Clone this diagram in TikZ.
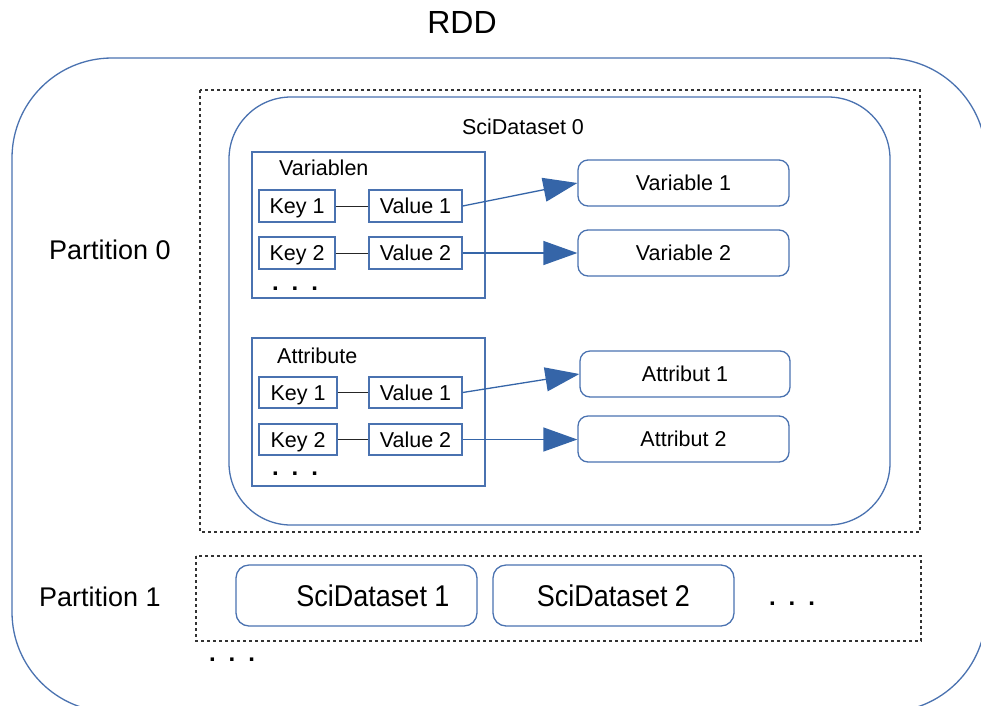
\documentclass[tikz,border=0pt]{standalone}
\usepackage{fontspec}
\setmainfont{Liberation Sans}
\usetikzlibrary{arrows.meta}
\definecolor{bl}{HTML}{4A72B0}
\definecolor{ar}{HTML}{3565A8}
\newcommand{\mydots}{\textbf{.\hspace{13pt}.\hspace{13pt}.}}
\begin{document}
\begin{tikzpicture}[x=1pt,y=-1pt,
  bluebox/.style={draw=bl,line width=1.3pt,inner sep=0pt},
  rbox/.style={draw=bl,line width=1.3pt,rounded corners=10pt,inner sep=0pt},
  dbox/.style={draw=black!80,line width=1.1pt,dash pattern=on 3pt off 3pt},
  txt/.style={font=\fontsize{21.5}{25}\selectfont,inner sep=0pt,text height=15.5pt,text depth=0pt},
  dots/.style={font=\fontsize{24}{28}\selectfont,inner sep=0pt},
  big/.style={font=\fontsize{27}{31}\selectfont,inner sep=0pt},
  arr/.style={draw=ar,line width=1.3pt,-{Triangle[length=34pt,width=24pt]}},
  link/.style={draw=black!85,line width=1pt}]
\useasboundingbox (0,0) rectangle (981,705);
\clip (0,0) rectangle (981,705);
% outer RDD
\draw[draw=bl,line width=1.3pt,rounded corners=100pt] (12,58) rectangle (986,712);
\node[font=\fontsize{32}{36}\selectfont,inner sep=0pt] (rdd) at (462,22) {RDD};
% partitions
\draw[dbox] (200,90) rectangle (920,532);
\draw[dbox] (196,556) rectangle (921,641);
\node[big] (p0) at (110,250) {Partition 0};
\node[big] (p1) at (100,597) {Partition 1};
% SciDataset 0
\draw[draw=bl,line width=1.3pt,rounded corners=62pt] (229,97) rectangle (890,525);
\node[txt] (sd0) at (523,127) {SciDataset 0};
% Variablen
\draw[bluebox] (252,152) rectangle (485,298);
\node[txt,anchor=west] (varl) at (279,168) {Variablen};
\node[bluebox,minimum width=76pt,minimum height=32pt,txt] (vk1) at (297,206) {Key 1};
\node[bluebox,minimum width=93pt,minimum height=32pt,txt] (vv1) at (415.5,206) {Value 1};
\node[bluebox,minimum width=76pt,minimum height=32pt,txt] (vk2) at (297,253) {Key 2};
\node[bluebox,minimum width=93pt,minimum height=32pt,txt] (vv2) at (415.5,253) {Value 2};
\node[dots] (vd) at (295,289) {\mydots};
% Attribute
\draw[bluebox] (252,338) rectangle (485,486);
\node[txt,anchor=west] (attl) at (277,356) {Attribute};
\node[bluebox,minimum width=78pt,minimum height=31pt,txt] (ak1) at (298,392.5) {Key 1};
\node[bluebox,minimum width=93pt,minimum height=31pt,txt] (av1) at (415.5,392.5) {Value 1};
\node[bluebox,minimum width=78pt,minimum height=31pt,txt] (ak2) at (298,439.5) {Key 2};
\node[bluebox,minimum width=93pt,minimum height=31pt,txt] (av2) at (415.5,439.5) {Value 2};
\node[dots] (ad) at (295,474) {\mydots};
% targets
\node[rbox,minimum width=211pt,minimum height=46pt,txt] (var1) at (683.5,183) {Variable 1};
\node[rbox,minimum width=211pt,minimum height=46pt,txt] (var2) at (683.5,253) {Variable 2};
\node[rbox,minimum width=210pt,minimum height=46pt,txt] (att1) at (685,374) {Attribut 1};
\node[rbox,minimum width=211pt,minimum height=46pt,txt] (att2) at (683.5,439) {Attribut 2};
% links
\draw[link] (vk1) -- (vv1);
\draw[link] (vk2) -- (vv2);
\draw[link] (ak1) -- (av1);
\draw[link] (ak2) -- (av2);
\draw[arr] (vv1.east) -- (var1.west);
\draw[arr] (vv2.east) -- (var2.west);
\draw[arr] (av1.east) -- (att1.west);
\draw[arr] (av2.east) -- (att2.west |- av2.east);
% partition 1 content
\node[rbox,rounded corners=13pt,minimum width=241pt,minimum height=61pt,font=\fontsize{30}{34}\selectfont] (sd1) at (356.5,595.5) {\hspace{33pt}\scalebox{0.9}[1]{SciDataset 1}};
\node[rbox,rounded corners=13pt,minimum width=241pt,minimum height=61pt,font=\fontsize{30}{34}\selectfont] (sd2) at (613.5,595.5) {\scalebox{0.9}[1]{SciDataset 2}};
\node[dots] (pd) at (792,604) {\mydots};
\node[dots] (bd) at (232,660) {\mydots};
\end{tikzpicture}
\end{document}
